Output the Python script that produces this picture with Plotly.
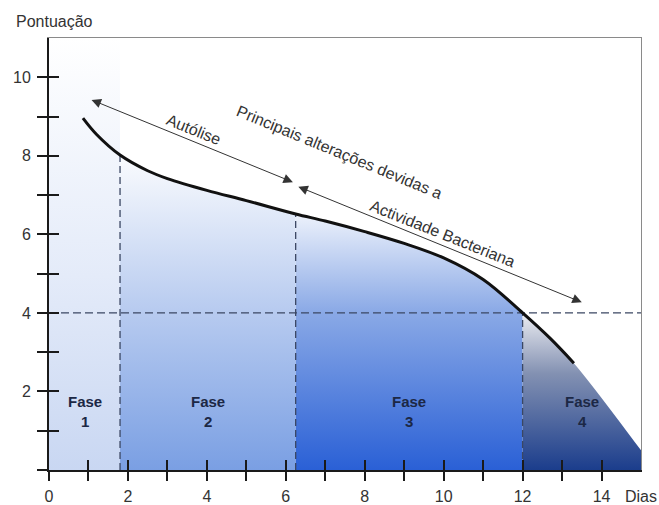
import numpy as np
import plotly.graph_objects as go

# ---- data ----
days = [0.86, 1.2, 1.8, 2.5, 3.0, 4.0, 5.0, 6.25, 7.0, 8.0, 9.0, 10.0, 11.0, 12.0, 12.7, 13.3]
score = [8.96, 8.55, 8.02, 7.62, 7.42, 7.12, 6.86, 6.52, 6.34, 6.07, 5.77, 5.40, 4.85, 4.00, 3.35, 2.72]
phase_bounds = [0.0, 1.8, 6.25, 12.0, 15.0]
phase_names = ["Fase<br>1", "Fase<br>2", "Fase<br>3", "Fase<br>4"]
limit_score = 4
tail_x = [15.0]          # end of the phase-4 shaded area
tail_y = [0.5]
x_tick_vals = list(range(0, 15))
x_tick_text = [str(v) if v % 2 == 0 else "" for v in x_tick_vals]
y_tick_vals = list(range(0, 11))
y_tick_text = [str(v) if (v % 2 == 0 and v > 0) else "" for v in y_tick_vals]

X_RANGE = [0, 15]
Y_RANGE = [0, 11]
FONT = "Liberation Sans, Arial, sans-serif"
NARROW = "Liberation Sans Narrow, Arial Narrow, Liberation Sans, Arial, sans-serif"
DASH_COL = "#3b4763"

days_a = np.array(days)
score_a = np.array(score)

fig = go.Figure()

# phase 1: full-height light column
fig.add_trace(go.Scatter(
    x=[phase_bounds[0], phase_bounds[1], phase_bounds[1], phase_bounds[0]],
    y=[Y_RANGE[0], Y_RANGE[0], Y_RANGE[1], Y_RANGE[1]],
    mode="none", fill="toself",
    fillgradient=dict(type="vertical", colorscale=[[0, "#c9d7f2"], [0.45, "#e4ebf9"], [1, "#ffffff"]],
                      start=0, stop=11),
    hoverinfo="skip", showlegend=False))

# phases 2 and 3: area under curve
grads = [
    ([[0, "#7a9fe3"], [0.5, "#b9ccf0"], [1, "#ffffff"]], 8.3),
    ([[0, "#2a60d6"], [0.6, "#8aa9e6"], [1, "#f4f7fd"]], 6.7),
]
for i, (cs, stop) in enumerate(grads):
    lo, hi = phase_bounds[i + 1], phase_bounds[i + 2]
    m = (days_a >= lo) & (days_a <= hi)
    fig.add_trace(go.Scatter(
        x=days_a[m], y=score_a[m], mode="none", fill="tozeroy", line_shape="spline",
        fillgradient=dict(type="vertical", colorscale=cs, start=0, stop=stop),
        hoverinfo="skip", showlegend=False))

# phase 4
m4 = days_a >= phase_bounds[3]
fig.add_trace(go.Scatter(
    x=list(days_a[m4]) + tail_x, y=list(score_a[m4]) + tail_y,
    mode="none", fill="tozeroy", line_shape="spline",
    fillgradient=dict(type="vertical", colorscale=[[0, "#1b3d8c"], [0.6, "#8391b2"], [1, "#f3f3f6"]],
                      start=0, stop=4.1),
    hoverinfo="skip", showlegend=False))

# dashed phase separators (up to the curve) and the limit line
for b in phase_bounds[1:4]:
    top = float(np.interp(b, days_a, score_a))
    fig.add_trace(go.Scatter(x=[b, b], y=[0, top], mode="lines",
                             line=dict(color=DASH_COL, width=1.3, dash="7px,4px"),
                             hoverinfo="skip", showlegend=False))
fig.add_trace(go.Scatter(x=X_RANGE, y=[limit_score, limit_score], mode="lines",
                         line=dict(color=DASH_COL, width=1.3, dash="8px,4px"),
                         hoverinfo="skip", showlegend=False))

# main curve
fig.add_trace(go.Scatter(x=days, y=score, mode="lines", line_shape="spline",
                         line=dict(color="#111111", width=3),
                         hoverinfo="skip", showlegend=False))

# helper traces for overlay axes (inside ticks and box border)
fig.add_trace(go.Scatter(x=[None], y=[None], xaxis="x2", yaxis="y2", showlegend=False, hoverinfo="skip"))
fig.add_trace(go.Scatter(x=[None], y=[None], xaxis="x3", yaxis="y3", showlegend=False, hoverinfo="skip"))

tickfont = dict(family=FONT, size=16, color="#333333")
common = dict(showgrid=False, zeroline=False, automargin=False)

fig.update_layout(
    width=659, height=505,
    margin=dict(l=49, r=18, t=38, b=35),
    paper_bgcolor="white", plot_bgcolor="white",
    xaxis=dict(range=X_RANGE, showline=True, linecolor="#1a1a1a", linewidth=2,
               ticks="outside", ticklen=9, tickwidth=1.6, tickcolor="#1a1a1a",
               tickmode="array", tickvals=x_tick_vals, ticktext=x_tick_text,
               ticklabelstandoff=2, tickfont=tickfont, **common),
    yaxis=dict(range=Y_RANGE, showline=True, linecolor="#1a1a1a", linewidth=2,
               ticks="outside", ticklen=10, tickwidth=1.6, tickcolor="#1a1a1a",
               tickmode="array", tickvals=y_tick_vals, ticktext=y_tick_text,
               ticklabelstandoff=3, tickfont=tickfont, **common),
    xaxis2=dict(range=X_RANGE, overlaying="x", anchor="y2", side="bottom",
                ticks="inside", ticklen=10, tickwidth=1.6, tickcolor="#1a1a1a",
                tickmode="array", tickvals=x_tick_vals, showticklabels=False,
                showline=False, **common),
    yaxis2=dict(range=Y_RANGE, overlaying="y", anchor="x2", side="left",
                ticks="inside", ticklen=10, tickwidth=1.6, tickcolor="#1a1a1a",
                tickmode="array", tickvals=y_tick_vals, showticklabels=False,
                showline=False, **common),
    xaxis3=dict(range=X_RANGE, overlaying="x", anchor="y3", side="top",
                showline=True, linecolor="#8a8a8a", linewidth=1, ticks="",
                showticklabels=False, **common),
    yaxis3=dict(range=Y_RANGE, overlaying="y", anchor="x3", side="right",
                showline=True, linecolor="#8a8a8a", linewidth=1, ticks="",
                showticklabels=False, **common),
)

annotations = []
# axis titles (paper coordinates, outside the plot area)
annotations.append(dict(text="Pontuação", x=0.0101, y=1.039, xref="paper", yref="paper",
                        xanchor="center", yanchor="middle", showarrow=False,
                        font=dict(family=FONT, size=16, color="#333333")))
annotations.append(dict(text="Dias", x=1.0, y=-0.062, xref="paper", yref="paper",
                        xanchor="center", yanchor="middle", showarrow=False,
                        font=dict(family=FONT, size=16, color="#333333")))
# phase labels
for i, name in enumerate(phase_names):
    cx = (phase_bounds[i] + phase_bounds[i + 1]) / 2
    annotations.append(dict(text="<b>" + name + "</b>", x=cx, y=1.5, xref="x", yref="y",
                            showarrow=False, align="center",
                            font=dict(family=NARROW, size=15, color="#1c2845")))
# double-headed arrows
arrow_style = dict(xref="x", yref="y", axref="x", ayref="y", text="", showarrow=True,
                   arrowhead=2, startarrowhead=2, arrowside="end+start",
                   arrowsize=1.9, startarrowsize=1.9, arrowwidth=1, arrowcolor="#333333")
annotations.append(dict(x=6.18, y=7.33, ax=1.04, ay=9.44, **arrow_style))
annotations.append(dict(x=13.5, y=4.27, ax=6.28, ay=7.23, **arrow_style))
# rotated texts
rot_font = dict(family=FONT, size=16, color="#333333")
annotations.append(dict(text="Autólise", x=3.65, y=8.66, xref="x", yref="y", showarrow=False,
                        textangle=22, font=rot_font))
annotations.append(dict(text="Principais alterações devidas a", x=7.37, y=8.08, xref="x", yref="y",
                        showarrow=False, textangle=22.4, font=rot_font))
annotations.append(dict(text="Actividade Bacteriana", x=9.96, y=6.01, xref="x", yref="y",
                        showarrow=False, textangle=21.8, font=rot_font))
fig.update_layout(annotations=annotations)

# remove the default 8px page margin so the 659x505 figure fills the window exactly
fig.write_html("out.html", config={"displayModeBar": False},
               post_script="document.body.style.margin='0';")
